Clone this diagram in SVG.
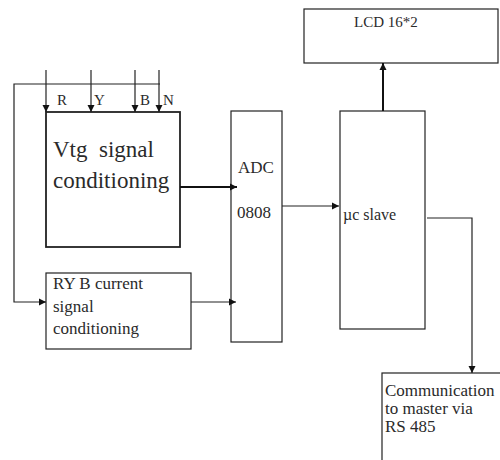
<svg xmlns="http://www.w3.org/2000/svg" width="500" height="460" viewBox="0 0 500 460">
<style>
.box{fill:#fff;stroke:#222;stroke-width:1.2}
.thick{stroke-width:1.8}
.ln{fill:none;stroke:#222;stroke-width:1.2}
.ln2{fill:none;stroke:#111;stroke-width:2}
.t{font-family:'Liberation Serif','Times New Roman','DejaVu Serif',serif;fill:#2a2a2a}
</style>
<defs>
<marker id="ah" markerWidth="8" markerHeight="8" refX="7" refY="4" orient="auto" markerUnits="userSpaceOnUse">
<path d="M0,0.5 L7,4 L0,7.5 Z" fill="#111"/>
</marker>
</defs>
<rect width="500" height="460" fill="#fff"/>
<g id="lcd">
<rect class="box" x="304" y="9" width="194" height="54"/>
<text class="t" x="354" y="27" font-size="15">LCD 16*2</text>
</g>
<g id="vtg">
<rect class="box thick" x="46" y="112" width="134" height="135"/>
<text class="t" x="53" y="157" font-size="23" xml:space="preserve">Vtg  signal</text>
<text class="t" x="53" y="188" font-size="23">conditioning</text>
</g>
<g id="adc">
<rect class="box" x="231" y="111" width="51" height="231"/>
<text class="t" x="238" y="173" font-size="17">ADC</text>
<text class="t" x="237" y="218" font-size="17">0808</text>
</g>
<g id="uc">
<rect class="box" x="340" y="111" width="85" height="218"/>
<text class="t" x="343" y="220" font-size="16">µc slave</text>
</g>
<g id="ryb">
<rect class="box" x="46" y="273" width="145" height="76"/>
<text class="t" x="53" y="289" font-size="17">RY B current</text>
<text class="t" x="53" y="312" font-size="17">signal</text>
<text class="t" x="53" y="334" font-size="17">conditioning</text>
</g>
<g id="comm">
<rect class="box" x="382" y="373" width="130" height="100"/>
<text class="t" x="385" y="396" font-size="17">Communication</text>
<text class="t" x="385" y="414" font-size="17">to master via</text>
<text class="t" x="385" y="432" font-size="17">RS 485</text>
</g>
<g id="inputs">
<text class="t" x="57" y="105" font-size="15">R</text>
<text class="t" x="94" y="105" font-size="15">Y</text>
<text class="t" x="140" y="105" font-size="15">B</text>
<text class="t" x="163" y="105" font-size="15">N</text>
</g>
<g id="connectors">
<path class="ln" d="M46,70 V112" marker-end="url(#ah)"/>
<path class="ln" d="M91,70 V112" marker-end="url(#ah)"/>
<path class="ln" d="M135,70 V112" marker-end="url(#ah)"/>
<path class="ln" d="M159,70 V112" marker-end="url(#ah)"/>
<path class="ln" d="M160,84 H14 V302 H46" marker-end="url(#ah)"/>
<path class="ln2" d="M180,187 H237" marker-end="url(#ah)"/>
<path class="ln" d="M191,302 H236" marker-end="url(#ah)"/>
<path class="ln" d="M282,206 H339" marker-end="url(#ah)"/>
<path class="ln2" d="M383,111 V63" marker-end="url(#ah)"/>
<path class="ln" d="M427,218 H472 V373" marker-end="url(#ah)"/>
</g>
</svg>
